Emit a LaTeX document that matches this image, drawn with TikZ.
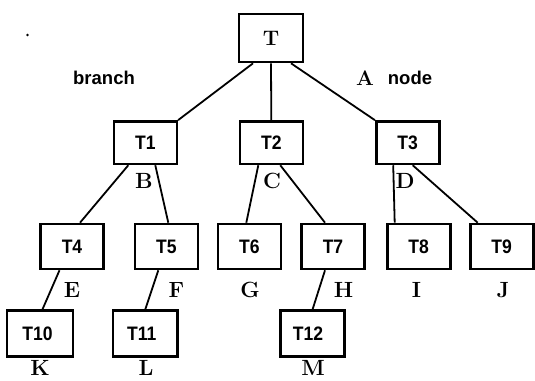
\documentclass[tikz,border=0pt]{standalone}
\usepackage{fontspec}
\setsansfont{Liberation Sans}
\newfontfamily\boxfont{Liberation Sans}[FakeStretch=0.9]
\begin{document}
\begin{tikzpicture}[x=1pt,y=-1pt,
  tbox/.style={draw,line width=2.6pt,inner sep=0pt,minimum width=63pt,
               font=\boxfont\bfseries\fontsize{19.5}{19.5}\selectfont},
  lvlone/.style={tbox,minimum height=42.5pt},
  lvltwo/.style={tbox,minimum height=45pt},
  lvlthree/.style={tbox,minimum height=46pt},
  edge/.style={line width=1.8pt},
  letter/.style={inner sep=0pt,font=\bfseries\fontsize{22}{22}\selectfont},
  word/.style={inner sep=0pt,font=\sffamily\bfseries\fontsize{18.5}{18.5}\selectfont}]
\useasboundingbox (0,0) rectangle (535,380);

% root
\node[tbox,minimum width=64pt,minimum height=48pt,
      font=\bfseries\fontsize{21}{21}\selectfont] (T) at (271,38) {T};

% first level
\node[lvlone] (T1) at (145.3,142.7) {T1};
\node[lvlone] (T2) at (271.3,142.7) {T2};
\node[lvlone] (T3) at (407.7,142.7) {T3};

% second level
\node[lvltwo] (T4) at (72,246.5)    {T4};
\node[lvltwo] (T5) at (166.3,246.5) {T5};
\node[lvltwo] (T6) at (249.3,246.5) {T6};
\node[lvltwo] (T7) at (333,246.5)   {T7};
\node[lvltwo] (T8) at (418.7,246.5) {T8};
\node[lvltwo] (T9) at (501.7,246.5) {T9};

% third level
\node[lvlthree,minimum width=66pt] (T10) at (40,333.6)    {\hspace*{-5pt}T10};
\node[lvlthree,minimum width=64.5pt] (T11) at (145.3,333.6) {\hspace*{-7pt}T11};
\node[lvlthree,minimum width=64pt] (T12) at (312.6,333.6) {\hspace*{-9pt}T12};

% branches
\draw[edge] ([xshift=-18pt]T.south) -- (T1.north east);
\draw[edge] (T.south) -- (T2.north);
\draw[edge] ([xshift=20pt]T.south) -- (T3.north west);

\draw[edge] ([xshift=-17pt]T1.south) -- ([xshift=8pt]T4.north);
\draw[edge] ([xshift=10pt]T1.south) -- ([xshift=2pt]T5.north);
\draw[edge] ([xshift=-13pt]T2.south) -- ([xshift=-3pt]T6.north);
\draw[edge] ([xshift=9pt]T2.south) -- ([xshift=-8pt]T7.north);
\draw[edge] ([xshift=-14.5pt]T3.south) -- ([xshift=-24pt]T8.north);
\draw[edge] ([xshift=5pt]T3.south) -- ([xshift=-24pt]T9.north);

\draw[edge] ([xshift=-12.5pt]T4.south) -- ([xshift=2.5pt]T10.north);
\draw[edge] ([xshift=-8pt]T5.south) -- (T11.north);
\draw[edge] ([xshift=-8pt]T7.south) -- (T12.north);

% letters naming the subtrees
\node[letter] (lB) at (144,181) {B};
\node[letter] (lC) at (272,181) {C};
\node[letter] (lD) at (405,181) {D};
\node[letter] (lE) at (72,290)    {E};
\node[letter] (lF) at (176.5,290) {F};
\node[letter] (lG) at (250,290)   {G};
\node[letter] (lH) at (343.5,290) {H};
\node[letter] (lI) at (416.5,290) {I};
\node[letter] (lJ) at (503,290)   {J};
\node[letter] (lK) at (40,368)  {K};
\node[letter] (lL) at (146,368) {L};
\node[letter] (lM) at (313,368) {M};

% annotations
\node[word] (branch) at (104,78) {branch};
\node[letter,font=\bfseries\fontsize{21}{21}\selectfont] (nA) at (365,78) {A};
\node[word] (nodeword) at (410,78) {node};

% speck in the upper left
\fill (27.5,35) circle (1.4pt);
\end{tikzpicture}
\end{document}
